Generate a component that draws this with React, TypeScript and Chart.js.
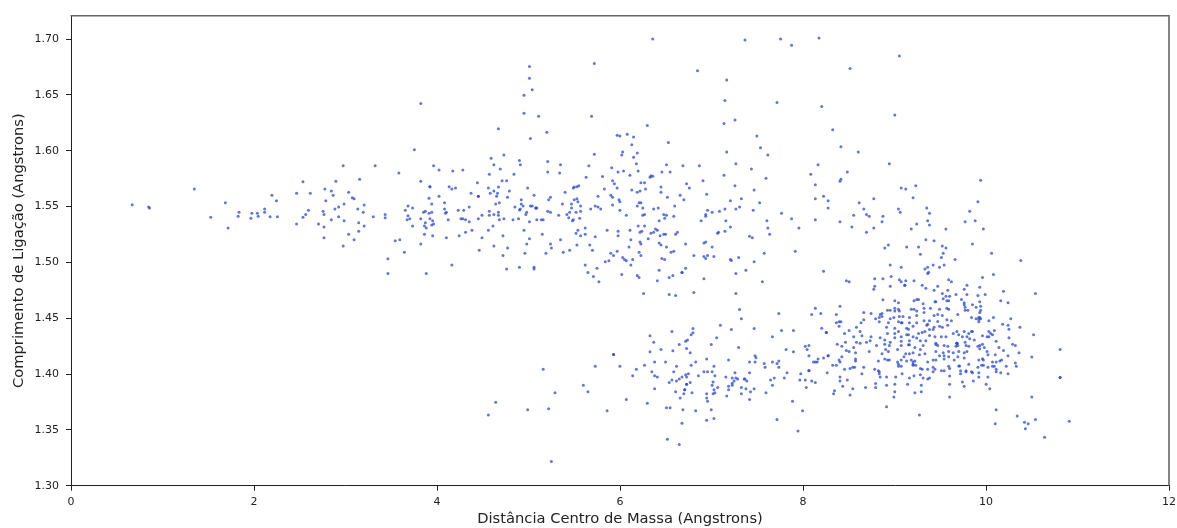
import React, { useEffect, useRef } from "react";
import { Chart, registerables } from "chart.js";

Chart.register(...registerables);

type P = [number, number];

const xTicks = [0, 2, 4, 6, 8, 10, 12];
const yTicks = [1.3, 1.35, 1.4, 1.45, 1.5, 1.55, 1.6, 1.65, 1.7];
const xLabel = "Distância Centro de Massa (Angstrons)";
const yLabel = "Comprimento de Ligação (Angstrons)";
// The x readings below were taken with a slightly short unit length; this corrects them.
const xReadingCorrection = 91.33 / 91.5;

const farLeft: P[] = [[0.67,1.5517],[0.85,1.5497],[0.86,1.5488],[1.35,1.5658],[1.53,1.5404],[1.69,1.5535],[1.72,1.5309],[1.83,1.5413],[1.84,1.5449],[1.97,1.5395],[1.98,1.544],[2.04,1.544],[2.05,1.5413],[2.12,1.5479],[2.12,1.5449],[2.18,1.541],[2.2,1.5601],[2.25,1.5553],[2.26,1.541],[2.47,1.5619],[2.47,1.5345],[2.54,1.5723],[2.54,1.5404],[2.57,1.543],[2.6,1.5467],[2.62,1.5619],[2.71,1.5345],[2.76,1.5458],[2.77,1.543],[2.77,1.5318],[2.77,1.5222],[2.78,1.5658],[2.79,1.5553],[2.85,1.564],[2.87,1.5601],[2.85,1.5383],[2.89,1.5479],[2.9,1.5726],[2.93,1.5497],[2.93,1.541],[2.98,1.5866],[2.99,1.5523],[2.99,1.5374],[2.98,1.5148],[3.04,1.5628],[3.08,1.558],[3.1,1.5571],[3.04,1.5252],[3.1,1.5204],[3.14,1.5479],[3.16,1.5744],[3.2,1.5449],[3.21,1.5515],[3.15,1.5356],[3.21,1.5327],[3.15,1.5279],[3.31,1.541],[3.33,1.5866],[3.44,1.543],[3.44,1.5401],[3.55,1.5195],[3.6,1.5204],[3.59,1.58],[3.66,1.5467],[3.69,1.5506],[3.69,1.5419],[3.68,1.5383],[3.71,1.5392],[3.74,1.5488],[3.74,1.5327],[3.76,1.601],[3.83,1.6424],[3.83,1.5726],[3.83,1.5392],[3.83,1.5166],[3.86,1.5449],[3.88,1.5458],[3.88,1.5356],[3.87,1.5327],[3.89,1.5309],[3.92,1.544],[3.92,1.5574],[3.93,1.5678],[3.93,1.5678],[3.93,1.5392],[3.95,1.5523],[3.95,1.5449],[3.96,1.5374],[3.95,1.5336],[3.97,1.5345],[3.87,1.5252],[3.96,1.524],[3.97,1.5866],[4.03,1.5828],[4.03,1.5592],[3.47,1.5034],[3.47,1.49],[3.65,1.5091],[3.89,1.49]];

const upperMiddle: P[] = [[4.18,1.5819],[4.29,1.5828],[4.68,1.6197],[4.6,1.5932],[4.74,1.5962],[4.63,1.5875],[4.7,1.5837],[4.58,1.5789],[4.45,1.5714],[4.72,1.5732],[4.77,1.5732],[4.85,1.5789],[4.91,1.5914],[4.92,1.5875],[5.02,1.6755],[5.02,1.665],[5.05,1.6546],[4.96,1.6498],[4.96,1.6337],[5.12,1.631],[5.21,1.6167],[5.03,1.611],[5.22,1.5905],[5.36,1.5875],[5.22,1.581],[5.35,1.58],[4.14,1.5678],[4.17,1.5658],[4.21,1.5667],[4.09,1.5535],[4.09,1.5479],[4.11,1.5449],[4.1,1.544],[4.13,1.5383],[4.11,1.5222],[4.24,1.5467],[4.3,1.5467],[4.36,1.5497],[4.38,1.5619],[4.46,1.5592],[4.46,1.5592],[4.57,1.5667],[4.59,1.5619],[4.63,1.564],[4.67,1.5619],[4.66,1.5592],[4.68,1.5675],[4.8,1.564],[4.78,1.5583],[4.69,1.5535],[4.65,1.5523],[4.58,1.5458],[4.58,1.5422],[4.63,1.543],[4.68,1.5449],[4.68,1.5422],[4.5,1.5422],[4.46,1.5392],[4.27,1.5392],[4.29,1.5392],[4.32,1.5383],[4.36,1.5365],[4.69,1.5383],[4.74,1.5392],[4.84,1.5383],[4.9,1.5392],[4.86,1.5497],[4.91,1.547],[4.92,1.5479],[4.93,1.5562],[4.93,1.5523],[4.95,1.5506],[5,1.5667],[5.07,1.5601],[5.03,1.5506],[5.05,1.5506],[5.09,1.5488],[5.09,1.5488],[5.1,1.5488],[4.99,1.5449],[4.98,1.543],[5.1,1.5383],[5.15,1.5383],[5.17,1.5383],[5.02,1.5365],[4.96,1.5288],[5.16,1.5252],[5.02,1.5213],[4.99,1.5166],[4.97,1.5082],[4.73,1.524],[4.78,1.513],[4.73,1.5061],[4.63,1.5148],[4.47,1.5109],[4.5,1.5222],[4.57,1.5288],[4.62,1.5327],[4.39,1.5288],[4.32,1.527],[4.25,1.524],[4.17,1.4978],[5.2,1.5082],[5.25,1.5166],[5.26,1.513],[5.36,1.5204],[5.39,1.5091],[5.46,1.5109],[5.54,1.5157],[5.68,1.5157],[5.71,1.5109],[5.63,1.4978],[5.53,1.5261],[5.55,1.5288],[5.58,1.524],[5.63,1.5252],[5.63,1.5309],[5.74,1.5231],[5.22,1.5458],[5.25,1.5449],[5.23,1.5562],[5.25,1.5583],[5.38,1.5523],[5.41,1.5628],[5.34,1.5422],[5.43,1.543],[5.46,1.5449],[5.45,1.5401],[5.48,1.5523],[5.48,1.5488],[5.53,1.5449],[5.49,1.5374],[5.5,1.5383],[5.57,1.5395],[5.58,1.5458],[5.58,1.5506],[5.51,1.5562],[5.54,1.5571],[5.55,1.5544],[5.5,1.5667],[5.51,1.5675],[5.54,1.5678],[5.56,1.5687],[5.64,1.5762],[5.67,1.5866],[5.7,1.631],[5.73,1.6782],[5.73,1.597],[5.69,1.5479],[5.74,1.5506],[5.77,1.5497],[5.8,1.5479],[5.77,1.5592],[5.84,1.5658],[5.82,1.577],[5.92,1.5848],[5.93,1.5732],[5.95,1.5705],[5.98,1.5667],[5.99,1.581],[6.05,1.5819],[6.12,1.578],[5.98,1.614],[6.01,1.6132],[6.09,1.6149],[6.16,1.6123],[6.14,1.6054],[6.04,1.5989],[6.03,1.5962],[6.2,1.598],[6.16,1.5941],[6.19,1.5884],[6.21,1.5819],[6.31,1.6227],[6.37,1.7002],[6.24,1.5714],[6.28,1.5714],[6.34,1.5762],[6.35,1.5777],[6.37,1.5771],[6.47,1.581],[6.52,1.5875],[6.56,1.581],[6.54,1.6075],[6.7,1.5866],[6.46,1.5675],[6.46,1.5628],[6.29,1.5658],[6.23,1.564],[6.2,1.5628],[6.14,1.5649],[5.91,1.5601],[5.93,1.5583],[6,1.5562],[6.01,1.5544],[5.93,1.5515],[6.01,1.5467],[6.08,1.5422],[6.22,1.5535],[6.24,1.5535],[6.2,1.5506],[6.26,1.5488],[6.38,1.5479],[6.43,1.5488],[6.53,1.5583],[6.67,1.5601],[6.71,1.5562],[6.61,1.5506],[6.74,1.5705],[6.77,1.5667],[6.86,1.6716],[6.88,1.5866],[6.92,1.5732],[6.96,1.561],[6.97,1.5467],[7.02,1.5449],[6.95,1.543],[6.95,1.5413],[7.1,1.5458],[7.16,1.5479],[7.22,1.5553],[7.28,1.5479],[7.32,1.5497],[7.34,1.5571],[7.47,1.5467],[7.54,1.5535],[7.48,1.5649],[7.27,1.5687],[7.15,1.578],[7.28,1.5884],[7.45,1.5837],[7.61,1.5753],[7.63,1.5962],[7.55,1.6027],[7.51,1.6132],[7.18,1.5989],[7.15,1.6245],[7.27,1.6275],[7.16,1.6451],[7.18,1.6633],[7.38,1.6993],[7.77,1.7002],[7.89,1.6946],[7.73,1.6433],[7.78,1.544],[7.89,1.5392],[7.62,1.5374],[7.63,1.5309],[7.65,1.5252],[7.97,1.5309],[7.93,1.51],[7.59,1.5082],[7.48,1.5005],[7.43,1.5234],[7.46,1.5222],[7.31,1.5043],[7.22,1.5026],[7.23,1.5017],[7.17,1.5374],[7.22,1.5318],[7.16,1.5279],[7.08,1.5261],[7.09,1.527],[6.9,1.5374],[6.93,1.5175],[6.95,1.5184],[7.02,1.5139],[7.04,1.5052],[6.97,1.5061],[6.93,1.5052],[6.95,1.5035],[6.82,1.5061],[6.73,1.5166],[6.6,1.51],[6.57,1.5091],[6.52,1.5139],[6.46,1.5157],[6.44,1.5175],[6.47,1.5035],[6.5,1.5026],[6.24,1.5061],[6.22,1.5091],[6.24,1.5166],[6.23,1.5184],[6.13,1.5204],[6.11,1.5139],[5.98,1.51],[5.94,1.5061],[5.91,1.5082],[5.89,1.5014],[5.85,1.5005],[6.04,1.5043],[6.06,1.5026],[6.08,1.5014],[6.15,1.5026],[6.13,1.4978],[5.87,1.5288],[5.99,1.5279],[5.99,1.524],[6.12,1.5288],[6.21,1.5327],[6.23,1.527],[6.25,1.5279],[6.28,1.5327],[6.32,1.5213],[6.35,1.5261],[6.38,1.527],[6.4,1.53],[6.42,1.5288],[6.45,1.524],[6.49,1.5252],[6.51,1.5252],[6.62,1.5252],[6.64,1.527],[6.44,1.5374],[6.49,1.543],[6.52,1.5422],[6.5,1.5395],[6.6,1.5413],[6.26,1.5422],[6.28,1.543]];

const lowerMiddle: P[] = [[4.77,1.494],[4.91,1.4957],[5.07,1.4957],[5.07,1.494],[5.66,1.4909],[5.76,1.4948],[5.72,1.4874],[5.78,1.4826],[6.03,1.4892],[6.2,1.4883],[6.22,1.4865],[6.27,1.4722],[6.44,1.493],[6.42,1.4835],[6.55,1.4865],[6.59,1.4883],[6.69,1.4909],[6.69,1.4909],[6.73,1.4948],[6.55,1.4713],[6.62,1.4704],[6.82,1.473],[6.93,1.4853],[7.28,1.49],[7.39,1.493],[7.57,1.4826],[7.28,1.4722],[7.32,1.4578],[7.34,1.4495],[7.75,1.4543],[7.11,1.4438],[7.23,1.44],[7.48,1.4408],[7.68,1.4334],[7.78,1.439],[7.91,1.439],[6.81,1.4408],[6.81,1.437],[6.79,1.4352],[7.07,1.4325],[7.01,1.4265],[6.75,1.4304],[6.73,1.4295],[6.58,1.4382],[6.34,1.4343],[6.38,1.4286],[6.66,1.4265],[6.74,1.423],[6.46,1.422],[6.59,1.4209],[6.34,1.42],[6.78,1.419],[7.31,1.4239],[7.83,1.422],[7.91,1.42],[8.04,1.4248],[8.06,1.422],[8.08,1.4256],[8.08,1.4164],[5.94,1.4176],[5.94,1.4176],[6.96,1.4134],[7.2,1.4125],[7.49,1.4164],[7.5,1.4146],[7.43,1.4107],[7.49,1.4107],[7.59,1.4095],[7.6,1.406],[7.68,1.4107],[7.73,1.4095],[7.75,1.4116],[7.75,1.406],[7.84,1.4012],[7.99,1.4003],[8.08,1.4033],[6.39,1.4107],[6.51,1.4107],[6.63,1.4069],[6.28,1.4078],[5.74,1.4069],[6.01,1.4069],[6.19,1.4042],[5.17,1.4042],[6.79,1.4078],[6.84,1.4107],[7.04,1.4069],[6.36,1.4021],[6.6,1.4021],[6.93,1.4021],[6.97,1.4021],[7.02,1.4021],[6.15,1.3985],[6.39,1.3985],[6.42,1.3973],[6.73,1.3994],[6.76,1.4003],[6.74,1.3973],[6.69,1.3973],[6.66,1.3955],[6.58,1.3946],[6.55,1.3925],[6.63,1.3937],[6.87,1.3985],[7.05,1.3985],[7.17,1.3973],[7.24,1.3964],[7.27,1.4012],[7.28,1.3964],[7.3,1.3955],[7.26,1.3937],[7.24,1.3917],[7.24,1.3899],[7.2,1.389],[7.2,1.386],[7.18,1.3803],[7.34,1.388],[7.34,1.3824],[7.37,1.3955],[7.38,1.3955],[7.4,1.3937],[7.43,1.4012],[7.39,1.3869],[7.44,1.3842],[7.48,1.3869],[7.43,1.3773],[7.61,1.3833],[7.66,1.3946],[7.7,1.3964],[7.68,1.3899],[7.81,1.3964],[7.98,1.3946],[8.04,1.3946],[8.05,1.388],[7.9,1.3756],[8.01,1.3672],[7.73,1.3594],[7.96,1.349],[7.03,1.3928],[7.02,1.3899],[6.78,1.3925],[6.74,1.3908],[6.74,1.3908],[7.08,1.388],[7.04,1.386],[7.05,1.3833],[7.03,1.3824],[6.96,1.3824],[6.96,1.3785],[6.97,1.3756],[6.72,1.386],[6.72,1.386],[6.71,1.3824],[6.8,1.3833],[6.62,1.3842],[6.67,1.3785],[6.39,1.3869],[5.61,1.3899],[5.66,1.3842],[5.3,1.3833],[6.08,1.3773],[6.31,1.3738],[4.65,1.3747],[4.57,1.3633],[5,1.3681],[5.23,1.369],[5.87,1.3672],[6.52,1.3699],[6.56,1.3699],[6.7,1.3681],[6.84,1.3672],[7.01,1.3681],[6.96,1.3586],[7.04,1.3603],[6.69,1.3559],[6.53,1.3416],[6.66,1.3368],[5.26,1.3216]];

const upperRight: P[] = [[8.19,1.7011],[9.07,1.685],[8.53,1.6737],[8.22,1.6397],[9.02,1.632],[8.34,1.6188],[8.43,1.6036],[8.62,1.5989],[8.18,1.5875],[8.96,1.5884],[8.1,1.5789],[8.5,1.581],[8.43,1.5744],[8.42,1.5726],[8.15,1.5696],[9.09,1.5667],[9.14,1.5658],[9.25,1.5687],[9.96,1.5735],[8.15,1.5571],[8.24,1.5592],[8.29,1.5553],[8.29,1.5488],[8.63,1.5535],[8.79,1.5571],[9.22,1.558],[9.93,1.5544],[8.68,1.5479],[9.06,1.5479],[9.08,1.5449],[9.37,1.5488],[9.4,1.544],[9.84,1.5458],[8.57,1.5422],[8.71,1.543],[8.74,1.5413],[8.89,1.5413],[8.15,1.5383],[8.42,1.5365],[8.88,1.5365],[9.38,1.5374],[9.26,1.5345],[9.4,1.5336],[9.79,1.5365],[9.9,1.5374],[8.55,1.5318],[8.79,1.5309],[9.2,1.53],[9.58,1.53],[9.99,1.53],[8.71,1.527],[9.36,1.5204],[9.45,1.5195],[8.95,1.5157],[8.91,1.513],[9.15,1.5139],[9.28,1.5139],[9.54,1.5148],[9.58,1.513],[9.87,1.5166],[9.3,1.5073],[9.55,1.5082],[9.53,1.5043],[9.68,1.5026],[10.08,1.5082],[10.4,1.5017],[8.97,1.4978],[9.44,1.4978],[9.56,1.4978]];

const clusterTop: P[] = [[8.24,1.4921],[8.49,1.4835],[8.52,1.4826],[8.8,1.4853],[8.89,1.4853],[8.98,1.4874],[8.79,1.476],[8.8,1.4787],[8.97,1.4787],[9.07,1.4844],[9.09,1.4826],[9.14,1.4835],[9.23,1.4835],[9.13,1.4796],[9.13,1.4796],[9.32,1.4796],[9.36,1.4769],[9.45,1.4751],[9.49,1.4787],[9.61,1.4844],[9.64,1.4826],[9.81,1.4796],[9.78,1.476],[9.95,1.4778],[9.98,1.4865],[10.1,1.4892],[10.21,1.4742],[10.56,1.4722],[9.09,1.4957],[9.35,1.494],[9.38,1.4957],[9.51,1.4957],[9.39,1.4912],[9.38,1.49],[9.54,1.4722],[9.6,1.4751],[9.58,1.4698],[9.62,1.4698],[9.69,1.4713],[9.81,1.4713],[9.93,1.4704],[10.01,1.4713],[8.89,1.4665],[9.02,1.4656],[9.06,1.4638],[9.23,1.4656],[9.26,1.4668],[9.28,1.4668],[9.33,1.4629],[9.34,1.459],[9.47,1.4647],[9.46,1.4647],[9.55,1.4674],[9.59,1.4656],[9.61,1.4656],[9.75,1.4668],[9.78,1.4638],[9.95,1.4647],[10.18,1.4656],[10.26,1.4638],[8.42,1.4608],[8.15,1.459],[8.11,1.4534],[8.21,1.4543],[8.38,1.4534],[8.68,1.4552],[8.76,1.4543],[8.88,1.4543],[8.94,1.4572],[8.97,1.4572],[9.02,1.459],[9.06,1.458],[9.02,1.4564],[9.07,1.4564],[9.2,1.458],[9.23,1.458],[9.26,1.4564],[9.41,1.459],[9.51,1.458],[9.59,1.459],[9.61,1.458],[9.78,1.462],[9.79,1.4599],[9.79,1.4572],[9.82,1.4572],[9.87,1.462],[9.91,1.4599],[9.96,1.4608],[9.96,1.4572],[9.95,1.4552],[8.86,1.4534],[8.88,1.4516],[8.85,1.4507],[8.81,1.4495],[8.97,1.4495],[9.01,1.4507],[9.07,1.4516],[9.11,1.4516],[9.18,1.4507],[9.26,1.4525],[9.34,1.4552],[9.45,1.4525],[9.49,1.4534],[9.54,1.4525],[9.71,1.4534],[9.86,1.4507],[9.94,1.4507],[9.95,1.4507],[9.94,1.4489],[9.96,1.4495],[9.94,1.4468],[9.91,1.4495],[10.05,1.4477],[10.1,1.4507],[10.29,1.4495]];

const clusterMiddle: P[] = [[8.38,1.4459],[8.41,1.4468],[8.43,1.4468],[8.41,1.4429],[8.68,1.4486],[8.65,1.4459],[8.6,1.442],[8.64,1.4382],[8.52,1.4391],[8.47,1.4364],[8.22,1.4411],[8.27,1.4373],[8.27,1.4373],[8.85,1.4468],[8.93,1.442],[8.95,1.4459],[9.06,1.4468],[9.09,1.4459],[9.1,1.4459],[9.18,1.4459],[9.15,1.4411],[9.17,1.4402],[9.22,1.4429],[9.26,1.4459],[9.37,1.4438],[9.34,1.4477],[9.4,1.4477],[9.38,1.4447],[9.45,1.442],[9.49,1.4471],[9.51,1.4429],[9.59,1.4486],[9.64,1.4477],[9.6,1.4438],[9.54,1.442],[9.44,1.4399],[9.4,1.4399],[9.35,1.4382],[9.32,1.4373],[9.28,1.4364],[9.02,1.4411],[9.06,1.4382],[9.02,1.4364],[8.94,1.4364],[8.76,1.4334],[8.75,1.4298],[8.71,1.4286],[8.66,1.4343],[8.57,1.4334],[8.6,1.4286],[8.64,1.4277],[8.48,1.4286],[8.39,1.4268],[8.44,1.4248],[8.57,1.4239],[8.49,1.4212],[8.52,1.4203],[8.59,1.4191],[8.74,1.4203],[8.82,1.4256],[8.86,1.4325],[8.91,1.4304],[8.97,1.4286],[8.91,1.4268],[8.96,1.4256],[9.09,1.4334],[9.02,1.4325],[9.09,1.4295],[9.15,1.4352],[9.17,1.4352],[9.22,1.4334],[9.18,1.4298],[9.18,1.4262],[9.17,1.4262],[9.26,1.4322],[9.3,1.4298],[9.36,1.4298],[9.24,1.4239],[9.33,1.4256],[9.3,1.422],[8.92,1.422],[9.09,1.4256],[9.05,1.422],[8.95,1.4203],[8.88,1.4182],[9.4,1.4346],[9.46,1.4334],[9.53,1.4334],[9.58,1.4334],[9.66,1.4364],[9.7,1.4382],[9.72,1.4352],[9.78,1.4382],[9.86,1.4382],[9.87,1.4382],[9.76,1.4334],[9.83,1.4364],[9.81,1.4334],[9.84,1.4316],[9.89,1.4304],[9.98,1.4343],[10.03,1.4334],[10.05,1.4334],[10.09,1.4352],[10.11,1.4391],[10.05,1.4382],[10.07,1.4364],[10.2,1.4447],[10.26,1.4438],[10.27,1.4402],[10.39,1.442],[10.27,1.4325],[10.13,1.4295],[10.31,1.4268],[10.34,1.4256],[10.21,1.4212],[10.16,1.4239],[10.38,1.4191],[10.54,1.4352],[10.26,1.4164],[10.52,1.4152],[9.47,1.4277],[9.47,1.4265],[9.49,1.4256],[9.56,1.4256],[9.6,1.4248],[9.7,1.4277],[9.7,1.4277],[9.7,1.4277],[9.71,1.4256],[9.69,1.4248],[9.79,1.4286],[9.8,1.4256],[9.83,1.4248],[9.93,1.4248],[9.95,1.4256],[9.98,1.4268],[9.95,1.4227],[10,1.4239],[9.47,1.4203],[9.55,1.4191],[9.61,1.4203],[9.66,1.4191],[9.72,1.4203],[9.81,1.4203],[9.78,1.4191],[10.03,1.4203],[10.04,1.4173],[10.12,1.4173],[9.35,1.4182],[9.29,1.4173],[9.22,1.4191],[9.14,1.4182],[9.18,1.4182],[9.12,1.4155]];

const clusterLow: P[] = [[8.24,1.4143],[8.29,1.4164],[8.29,1.4164],[8.44,1.4155],[8.41,1.4125],[8.42,1.4107],[8.59,1.4134],[8.59,1.4116],[8.18,1.4134],[8.13,1.4107],[8.15,1.4107],[8.17,1.4107],[8.34,1.4078],[8.38,1.4078],[8.47,1.4042],[8.53,1.405],[8.56,1.406],[8.58,1.406],[8.68,1.406],[8.08,1.403],[8.28,1.4012],[8.66,1.4003],[8.8,1.4042],[8.84,1.4116],[8.91,1.4134],[8.94,1.4125],[8.96,1.4125],[9.05,1.4107],[9.09,1.4125],[9.06,1.4089],[9.09,1.4069],[9.06,1.4069],[9.15,1.4116],[9.2,1.4125],[9.22,1.4107],[9.24,1.4116],[9.22,1.4089],[9.25,1.408],[9.22,1.4078],[9.3,1.405],[9.32,1.4042],[9.38,1.4107],[9.44,1.4125],[9.47,1.4125],[9.51,1.4164],[9.56,1.4164],[9.56,1.4134],[9.61,1.4155],[9.67,1.4125],[9.71,1.4155],[9.78,1.4143],[9.83,1.4089],[9.72,1.4072],[9.73,1.4072],[9.8,1.403],[9.86,1.4021],[9.87,1.4012],[9.94,1.4125],[9.98,1.4137],[9.99,1.4125],[9.93,1.406],[9.97,1.4078],[9.99,1.4078],[10.04,1.406],[9.94,1.4012],[10.09,1.4107],[10.13,1.4107],[10.17,1.4116],[10.19,1.4125],[10.09,1.4069],[10.11,1.4069],[10.13,1.4042],[10.13,1.4021],[10.18,1.4012],[10.24,1.4069],[10.26,1.4003],[10.34,1.4098],[10.35,1.4069],[9.44,1.406],[9.46,1.4042],[9.38,1.4042],[9.44,1.4021],[9.53,1.403],[9.56,1.403],[9.62,1.405],[9.61,1.4069],[9.74,1.403],[9.74,1.4003],[8.84,1.403],[8.85,1.4021],[8.85,1.4003],[8.86,1.3973],[8.93,1.3973],[9.03,1.3973],[9.1,1.4003],[9.18,1.3964],[9.23,1.3985],[9.3,1.3994],[9.33,1.3964],[9.38,1.3955],[9.4,1.3964],[9.62,1.3982],[9.8,1.4021],[9.88,1.3937],[9.94,1.3973],[10.04,1.3973],[10.02,1.3908],[10.06,1.3869],[9.76,1.3928],[9.78,1.389],[9.62,1.3908],[9.62,1.3794],[9.31,1.3842],[9.24,1.3833],[9.31,1.3899],[9.16,1.3908],[9.02,1.3908],[8.93,1.3899],[8.81,1.3916],[8.81,1.388],[8.7,1.388],[9.02,1.3842],[9.01,1.3794],[8.93,1.3708],[9.29,1.3633],[8.42,1.3973],[8.42,1.3937],[8.5,1.3946],[8.45,1.389],[8.56,1.3869],[8.36,1.3851],[8.35,1.3824],[8.53,1.3812],[8.11,1.3937],[8.15,1.3925],[10.52,1.3794],[10.13,1.3681],[10.12,1.3556],[10.36,1.3624],[10.44,1.3568],[10.48,1.3556],[10.56,1.3594],[10.45,1.3511],[10.66,1.3434],[10.83,1.4221],[10.83,1.397],[10.83,1.397],[10.93,1.3577]];

const points: P[] = [...farLeft, ...upperMiddle, ...lowerMiddle, ...upperRight, ...clusterTop, ...clusterMiddle, ...clusterLow];

const frame = {
  id: "frame",
  afterDraw(chart: any) {
    const { ctx, chartArea: a } = chart;
    ctx.save();
    ctx.strokeStyle = "#666";
    ctx.lineWidth = 1.6;
    ctx.beginPath();
    ctx.moveTo(a.left - 0.5, a.top);
    ctx.lineTo(a.right, a.top);
    ctx.lineTo(a.right, a.bottom);
    ctx.stroke();
    ctx.restore();
  },
};

const font = "'DejaVu Sans'";

export default function App() {
  const ref = useRef<HTMLCanvasElement>(null);
  useEffect(() => {
    document.body.style.margin = "0";
    const chart = new Chart(ref.current!, {
      type: "scatter",
      data: {
        datasets: [{
          data: points.map(([x, y]) => ({ x: x * xReadingCorrection, y })),
          backgroundColor: "rgba(45,75,195,0.75)",
          borderWidth: 0,
          pointRadius: 1.5,
        }],
      },
      options: {
        responsive: false,
        animation: false,
        layout: { padding: { top: 15.7, right: 8, left: 0, bottom: 0 } },
        plugins: { legend: { display: false }, tooltip: { enabled: false } },
        scales: {
          x: {
            type: "linear",
            min: 0,
            max: 12,
            afterBuildTicks: (s: any) => { s.ticks = xTicks.map((value) => ({ value })); },
            afterFit: (s: any) => { s.height = 42.3; s.paddingLeft = 0; s.paddingRight = 0; },
            grid: { drawOnChartArea: false, color: "#222", tickLength: 5 },
            border: { color: "#222" },
            ticks: { color: "#222", font: { family: font, size: 11 }, padding: 5, maxRotation: 0 },
            title: { display: true, text: xLabel, color: "#222", font: { family: font, size: 14.7 }, padding: { top: 1, bottom: 0 } },
          },
          y: {
            type: "linear",
            min: 1.3,
            max: 1.721,
            afterBuildTicks: (s: any) => { s.ticks = yTicks.map((value) => ({ value })); },
            afterFit: (s: any) => { s.width = 71; s.paddingTop = 0; s.paddingBottom = 0; },
            grid: { drawOnChartArea: false, color: "#222", tickLength: 5 },
            border: { color: "#222" },
            ticks: { color: "#222", font: { family: font, size: 11 }, padding: 7, callback: (v: any) => Number(v).toFixed(2) },
            title: { display: true, text: yLabel, color: "#222", font: { family: font, size: 14.7 }, padding: { top: 10, bottom: 0 } },
          },
        },
      },
      plugins: [frame],
    } as any);
    return () => chart.destroy();
  }, []);
  return <canvas ref={ref} width={1177} height={528} style={{ display: "block" }} />;
}
